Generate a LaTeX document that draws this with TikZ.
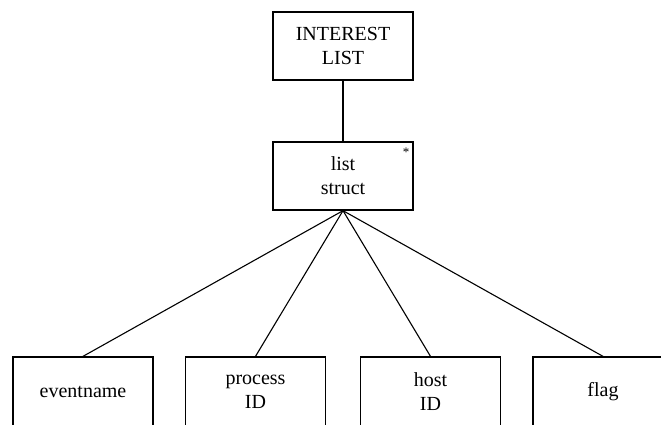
\documentclass[tikz,border=0pt]{standalone}
\usepackage{fontspec}
\setmainfont{Liberation Serif}
\begin{document}
\begin{tikzpicture}[x=1pt,y=-1pt,
  box/.style={draw,line width=1.3pt,minimum width=140pt,minimum height=68pt,
    align=center,inner sep=0pt,font=\fontsize{20}{24}\selectfont},
  link/.style={line width=1.1pt}]
\useasboundingbox (0,0) rectangle (661,424);
\clip (0,0) rectangle (661,424);
% top of the hierarchy
\node[box] (interest) at (343,46) {INTEREST\\LIST};
\node[box] (liststruct) at (343,176) {list\\struct};
\node[font=\fontsize{13}{13}\selectfont] (star) at (406,152) {*};
% fields of the list structure
\node[box,minimum height=70pt] (eventname) at (83,392) {eventname};
\node[box,minimum height=70pt] (process) at (255.5,392) {process\\ID};
\node[box,minimum height=70pt] (host) at (430.5,392) {host\\ID};
\node[box,minimum height=70pt] (flag) at (603,392) {flag};
% connectors
\draw[link] (interest.south) -- (liststruct.north);
\draw[link] (liststruct.south) -- (eventname.north);
\draw[link] (liststruct.south) -- (process.north);
\draw[link] (liststruct.south) -- (host.north);
\draw[link] (liststruct.south) -- (flag.north);
\end{tikzpicture}
\end{document}
